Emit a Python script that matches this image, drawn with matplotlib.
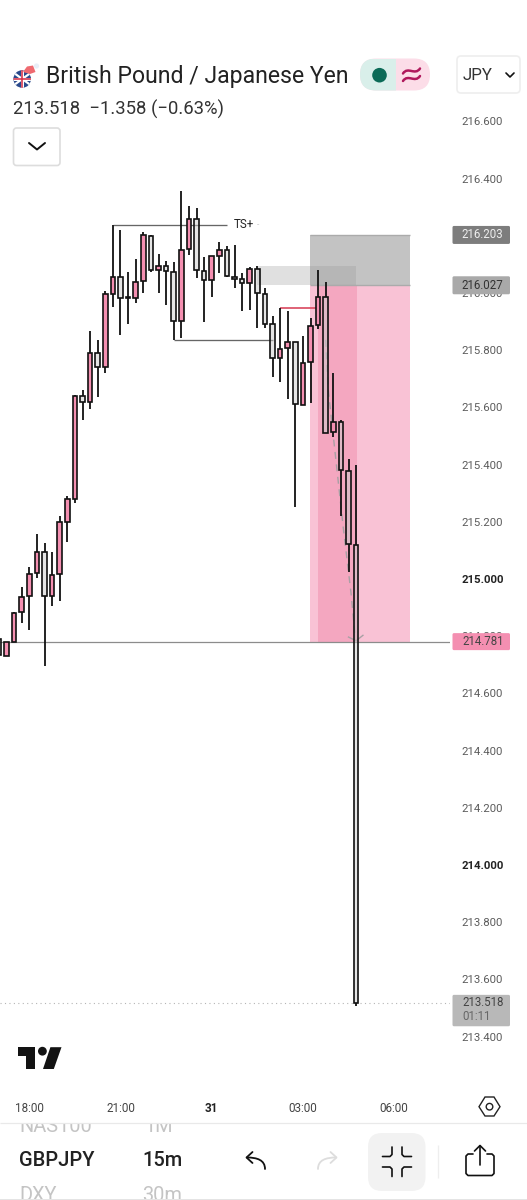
import matplotlib
matplotlib.use("Agg")
import matplotlib.pyplot as plt
from matplotlib.patches import Rectangle, FancyBboxPatch, Circle, Polygon, PathPatch
from matplotlib.path import Path

plt.rcParams['font.family'] = ['Roboto', 'DejaVu Sans']

W, H = 527, 1200

# ---------- data ----------
bar_index = list(range(-4, 44))
opens = [214.790, 214.732, 214.781, 214.884, 214.940, 215.020, 215.094, 214.942, 215.016, 215.200,
         215.279, 215.639, 215.618, 215.789, 215.740, 215.995, 216.056, 215.986, 215.983, 216.042,
         216.200, 216.080, 216.095, 216.073, 215.901, 216.153, 216.260, 216.078, 216.044, 216.128,
         216.150, 216.057, 216.048, 216.034, 216.084, 215.997, 215.892, 215.774, 215.807, 215.828,
         215.608, 215.758, 215.887, 215.987, 215.513, 215.548, 215.378, 215.119]
closes = [214.734, 214.781, 214.882, 214.938, 215.016, 215.094, 214.942, 215.014, 215.198, 215.279,
          215.640, 215.618, 215.789, 215.740, 215.995, 216.056, 215.981, 215.984, 216.040, 216.203,
          216.080, 216.095, 216.076, 215.901, 216.150, 216.260, 216.080, 216.044, 216.128, 216.150,
          216.059, 216.049, 216.034, 216.085, 215.999, 215.893, 215.774, 215.805, 215.828, 215.611,
          215.756, 215.885, 215.987, 215.512, 215.549, 215.381, 215.121, 213.518]
highs = [214.790, 214.781, 214.886, 214.973, 215.043, 215.156, 215.125, 215.095, 215.220, 215.290,
         215.643, 215.661, 215.867, 215.836, 216.007, 216.238, 216.220, 216.074, 216.118, 216.212,
         216.203, 216.135, 216.112, 216.109, 216.357, 216.305, 216.296, 216.125, 216.131, 216.179,
         216.164, 216.168, 216.069, 216.090, 216.094, 216.016, 215.918, 215.947, 215.937, 215.829,
         215.850, 215.912, 216.080, 216.040, 215.719, 215.556, 215.420, 215.399]
lows = [214.734, 214.732, 214.781, 214.847, 214.822, 215.002, 214.697, 214.907, 214.924, 215.130,
        215.267, 215.556, 215.593, 215.635, 215.719, 215.952, 215.853, 215.891, 215.964, 215.999,
        216.072, 215.999, 215.958, 215.836, 215.844, 216.133, 216.054, 215.900, 215.987, 216.069,
        216.056, 216.016, 215.938, 215.941, 215.879, 215.877, 215.705, 215.688, 215.628, 215.250,
        215.608, 215.614, 215.874, 215.510, 215.498, 215.220, 215.026, 213.507]

price_ticks = [216.6, 216.4, 216.0, 215.8, 215.6, 215.4, 215.2, 215.0,
               214.8, 214.6, 214.4, 214.2, 214.0, 213.8, 213.6, 213.4]
bold_ticks = [215.0, 214.0]
time_ticks = [0, 12, 24, 36, 48]
time_labels = ['18:00', '21:00', '31', '03:00', '06:00']

target_top, entry_level, stop_level = 216.203, 216.027, 214.781
last_price = 213.518
fvg_low, fvg_high = 216.027, 216.095
level_ts, level_low, level_red = 216.238, 215.836, 215.947
path_x = [39.0, 39.3, 40.2, 41.3, 42.33, 42.86]
path_y = [215.836, 215.671, 215.451, 215.182, 214.951, 214.804]
head_x = [42.0, 43.0, 43.9]
head_y = [214.797, 214.784, 214.803]

# ---------- figure ----------
fig = plt.figure(figsize=(W / 100, H / 100), dpi=100, facecolor='white')
top_px, bottom_px, right_px = 60, 1090, 450
ax = fig.add_axes([0, 1 - bottom_px / H, right_px / W, (bottom_px - top_px) / H])
PX_PER_BAR, X0, PX_PER_UNIT = 7.6, 29.3, 286.0
ax.set_xlim((0 - X0) / PX_PER_BAR, (right_px - X0) / PX_PER_BAR)
ax.set_ylim(215 - (bottom_px - 579) / PX_PER_UNIT, 215 + (579 - top_px) / PX_PER_UNIT)
for s in ax.spines.values():
    s.set_visible(False)

# zones
ax.add_patch(Rectangle((36.93, entry_level), 13.17, target_top - entry_level, fc='#c3c3c3', ec='none', zorder=1))
ax.hlines([target_top, entry_level], 36.93, 50.1, color='#ababab', lw=1, zorder=1.2)
ax.add_patch(Rectangle((36.93, stop_level), 13.17, entry_level - stop_level, fc='#f9c2d5', ec='none', zorder=1))
ax.add_patch(Rectangle((37.95, stop_level), 5.15, entry_level - stop_level, fc='#f4a7c0', ec='none', zorder=1.1))
ax.add_patch(Rectangle((29.95, fvg_low), 13.1, fvg_high - fvg_low, fc='#999999', alpha=0.3, ec='none', zorder=1.3))

# levels
ax.hlines(level_ts, 11, 26, color='#666666', lw=0.95, zorder=1.5)
ax.hlines(level_low, 19, 32, color='#666666', lw=0.95, zorder=1.5)
ax.hlines(level_red, 33, 38, color='#d9485f', lw=1.2, zorder=1.5)
ax.axhline(stop_level, color='#8c8c8c', lw=0.9, zorder=1.6)
ax.axhline(last_price, color='#b5b5b5', lw=0.8, ls=(0, (1, 3)), zorder=1.6)
ax.text(29.56, level_ts, 'TS+', fontsize=8.4, color='#222222', ha='right', va='center', zorder=3)
ax.text(30.0, level_ts, '-', fontsize=6, color='#bbbbbb', ha='left', va='center', zorder=3)

# projected path
ax.plot(path_x, path_y, color='#a8a0a4', lw=1.0, ls=(0, (5, 4)), zorder=1.8)
ax.plot(head_x, head_y, color='#a8a0a4', lw=1.0, zorder=1.8)

# candles
for i, o, c, h, l in zip(bar_index, opens, closes, highs, lows):
    up = c >= o
    ax.vlines(i, max(o, c), h, color='#111111', lw=1.3, zorder=2)
    ax.vlines(i, l, min(o, c), color='#111111', lw=1.3, zorder=2)
    fc = '#f48fb1' if up else (0.80, 0.80, 0.80, 0.5)
    ax.bar(i, abs(c - o), bottom=min(o, c), width=0.62, facecolor=fc, edgecolor='#111111', lw=1.2, zorder=2.1)

# axes ticks
ax.yaxis.tick_right()
ax.set_yticks(price_ticks)
ax.set_yticklabels([f'{t:.3f}' for t in price_ticks])
ax.tick_params(axis='y', length=0, pad=8, labelsize=8.2, labelcolor='#5c5c5c')
ax.set_xticks(time_ticks)
ax.set_xticklabels(time_labels)
ax.tick_params(axis='x', length=0, pad=9, labelsize=8.4, labelcolor='#444444')
for lab, t in zip(ax.get_yticklabels(), price_ticks):
    if t in bold_ticks:
        lab.set_fontweight('bold')
        lab.set_color('#222222')
ax.get_xticklabels()[2].set_fontweight('bold')
ax.get_xticklabels()[2].set_color('#222222')

# ---------- overlay in pixels ----------
ov = fig.add_axes([0, 0, 1, 1], facecolor='none')
ov.set_xlim(0, W)
ov.set_ylim(H, 0)
ov.axis('off')


def py(price):
    return H - ax.transData.transform((0, price))[1]


def rbox(x0, y0, x1, y1, r, fc='white', ec='none', lw=1.0, z=5):
    p = FancyBboxPatch((x0 + r, y0 + r), x1 - x0 - 2 * r, y1 - y0 - 2 * r,
                       boxstyle=f'round,pad={r},rounding_size={r}', fc=fc, ec=ec, lw=lw, zorder=z)
    ov.add_patch(p)
    return p


def txt(x, y, s, size, color='#222222', ha='left', weight='normal', z=6):
    return ov.text(x, y, s, fontsize=size, color=color, ha=ha, va='center', fontweight=weight, zorder=z)


def line(xs, ys, color='#111111', lw=1.2, z=6):
    ov.plot(xs, ys, color=color, lw=lw, solid_capstyle='round', solid_joinstyle='round', zorder=z)


def curve(pts, color='#111111', lw=1.3, z=6):
    ov.add_patch(PathPatch(Path(pts, [Path.MOVETO, Path.CURVE4, Path.CURVE4, Path.CURVE4]),
                           fc='none', ec=color, lw=lw, capstyle='round', zorder=z))


# price labels
rbox(452.5, py(target_top) - 9, 510, py(target_top) + 9, 1.5, fc='#7d7d7d')
txt(482.7, py(target_top), f'{target_top:.3f}', 8.3, '#eeeeee', 'center')
rbox(452.5, py(entry_level) - 9, 510, py(entry_level) + 9, 1.5, fc='#a9a9a9')
txt(482.7, py(entry_level), f'{entry_level:.3f}', 8.3, '#333333', 'center')
rbox(452.5, py(stop_level) - 8.5, 510, py(stop_level) + 8.5, 1.5, fc='#f48fb1')
txt(482.7, py(stop_level), f'{stop_level:.3f}', 8.3, '#444444', 'center')
rbox(452.5, py(last_price) - 8, 510, py(last_price) + 23.4, 1.5, fc='#b8b8b8')
txt(462, py(last_price), f'{last_price:.3f}', 8.3, '#444444')
txt(462, py(last_price) + 14, '01:11', 8.3, '#666666')

# header
flag = Circle((22.2, 79), 8.8, fc='#2a4a8c', ec='none', zorder=5)
ov.add_patch(flag)
for (xs, ys, c, w) in [([14, 30.5], [73, 85], 'white', 2.2), ([14, 30.5], [85, 73], 'white', 2.2),
                       ([13, 31.5], [79, 79], 'white', 3), ([22.2, 22.2], [70, 88], 'white', 3),
                       ([13, 31.5], [79, 79], '#d8324a', 1.6), ([22.2, 22.2], [70, 88], '#d8324a', 1.6)]:
    l, = ov.plot(xs, ys, color=c, lw=w * 0.72, zorder=5.1, solid_capstyle='butt')
    l.set_clip_path(flag)
ov.add_patch(Polygon([[23, 72], [27, 66.5], [33, 65.5], [35.5, 72], [30, 74]], closed=True, fc='#ef6a70', ec='none', zorder=5.2))
ov.add_patch(Circle((36.5, 66), 2.6, fc='#e8eef7', ec='none', zorder=5.3))
txt(46.4, 76, 'British Pound / Japanese Yen', 16.6, '#222222')
txt(12.8, 109, '213.518  \u22121.358 (\u22120.63%)', 13.35, '#333333')

pill = rbox(360, 58.5, 430, 90.5, 16, fc='#fcdde8')
left = Rectangle((360, 58.5), 36, 32, fc='#d9efea', ec='none', zorder=5.1)
ov.add_patch(left)
left.set_clip_path(pill)
ov.add_patch(Circle((379.5, 75.2), 7.3, fc='#0b6b57', ec='none', zorder=5.2))
for yw in [71, 78.5]:
    curve([(403, yw + 2.5), (408, yw - 5), (415, yw + 5), (420, yw - 2.5)], color='#b0185c', lw=1.8, z=5.3)

rbox(457, 56, 520, 93, 4, fc='white', ec='#eeeeee', lw=1.2)
txt(463, 75, 'JPY', 12.2, '#333333')
line([506, 510, 514], [73, 77, 73], lw=1.2)
rbox(13.5, 128, 60, 165.5, 3, fc='white', ec='#dddddd', lw=1.2)
line([29, 37, 45], [143, 149.5, 143], lw=1.4)

# logo
ov.add_patch(Polygon([[17.5, 1047.2], [35.3, 1047.2], [35.3, 1069], [26.2, 1069], [26.2, 1056], [17.5, 1056]],
                     closed=True, fc='#131313', ec='none', zorder=6))
ov.add_patch(Circle((42.4, 1051.2), 4.4, fc='#131313', ec='none', zorder=6))
ov.add_patch(Polygon([[50.4, 1047.2], [61.5, 1047.2], [53.8, 1069], [43, 1069]], closed=True, fc='#131313', ec='none', zorder=6))

# settings icon
ov.add_patch(Polygon([[479, 1106.7], [485, 1097], [494, 1097], [500, 1106.7], [494, 1116], [485, 1116]],
                     closed=True, fc='white', ec='#222222', lw=1.0, zorder=6))
ov.add_patch(Circle((489.5, 1106.7), 3.3, fc='white', ec='#222222', lw=1.0, zorder=6.1))

# bottom bar
txt(19.5, 1127, 'NAS100', 14.4, '#c4c4c4')
txt(144.5, 1127, '1M', 14.4, '#c4c4c4')
ov.add_patch(Rectangle((0, 1113), 240, 9.5, fc='white', ec='none', zorder=6.2))
ov.hlines(1122.5, 0, W, color='#e9e9e9', lw=0.9, zorder=6.3)
txt(18.5, 1161, 'GBPJPY', 14.4, '#222222', weight='medium')
txt(142, 1161, '15m', 14.4, '#222222', weight='medium')
txt(19.5, 1195.5, 'DXY', 14.4, '#c4c4c4')
txt(142, 1195.5, '30m', 14.4, '#c4c4c4')
ov.add_patch(Rectangle((0, 1199), W, 1, fc='#e4e4e4', ec='none', zorder=6.3))

# undo / redo
curve([(265, 1169), (265, 1160), (257, 1157.5), (247, 1157.5)])
line([252.5, 246.5, 252.5], [1152, 1157.5, 1163], lw=1.3)
curve([(318, 1169), (318, 1160), (326, 1157.5), (336, 1157.5)], color='#dddddd')
line([330.5, 336.5, 330.5], [1152, 1157.5, 1163], color='#dddddd', lw=1.3)

# collapse button
rbox(368, 1133, 425.5, 1191, 14, fc='#f2f2f2')
line([382.5, 390, 392, 392], [1156.5, 1156.5, 1154.5, 1147], lw=1.2)
line([411.5, 404, 402, 402], [1156.5, 1156.5, 1154.5, 1147], lw=1.2)
line([382.5, 390, 392, 392], [1167, 1167, 1169, 1176.5], lw=1.2)
line([411.5, 404, 402, 402], [1167, 1167, 1169, 1176.5], lw=1.2)
ov.vlines(438, 1145, 1178, color='#eeeeee', lw=0.9, zorder=6)

# share icon
line([473, 468, 466, 466, 468, 492, 494, 494, 492, 487],
     [1154, 1154, 1156, 1173.5, 1175.5, 1175.5, 1173.5, 1156, 1154, 1154], lw=1.2)
line([480, 480], [1165, 1146], lw=1.2)
line([474.5, 480, 485.5], [1151, 1145.5, 1151], lw=1.2)

fig.savefig('out.png', dpi=100, facecolor='white')
